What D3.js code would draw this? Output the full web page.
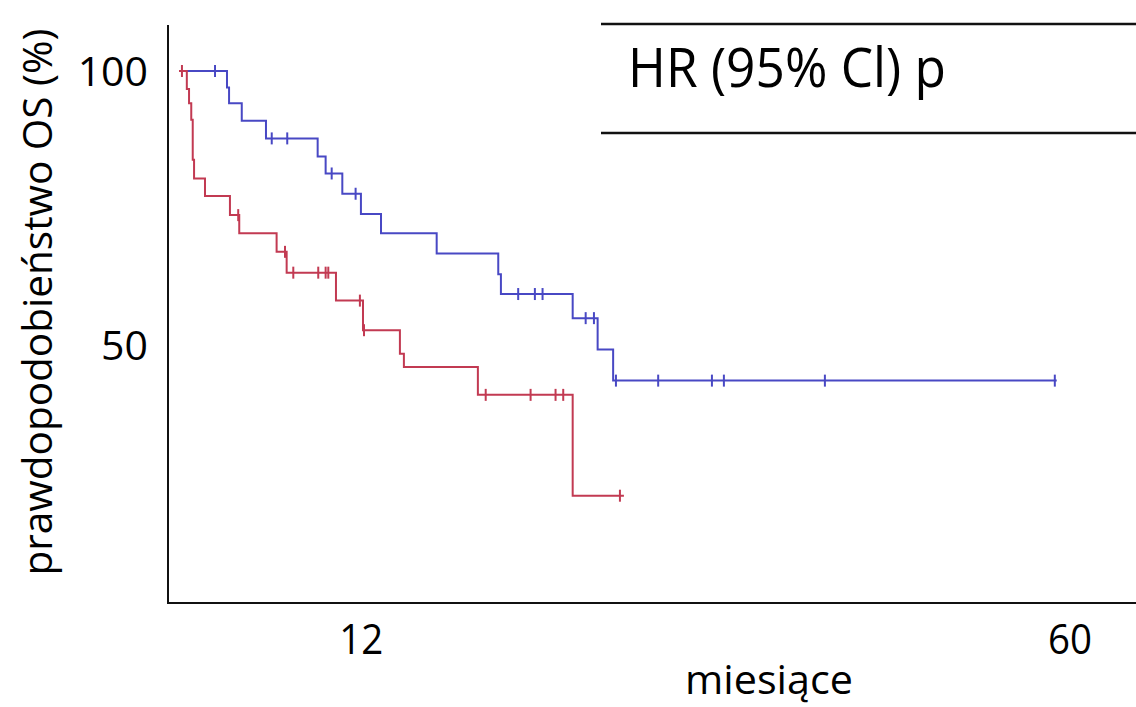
<!DOCTYPE html>
<html>
<head>
<meta charset="utf-8">
<script src="https://cdn.jsdelivr.net/npm/d3@7"></script>
<style>
  html, body { margin: 0; padding: 0; background: #fff; }
  svg { display: block; }
  text { font-family: "Open Sans", "Noto Sans", sans-serif; fill: #000; }
</style>
</head>
<body>
<svg id="chart" width="1136" height="707"></svg>
<script>
// ---- data (months, survival %) ----
const blueEventTimes = [0, 3.25, 3.39, 4.25, 5.89, 9.39, 9.93, 11.06, 12.32, 13.68, 17.45, 21.62, 21.80, 26.66, 28.35, 29.40];
const blueSurvival   = [100, 97.0, 94.1, 90.9, 87.7, 84.4, 81.3, 77.6, 73.9, 70.4, 66.7, 62.9, 59.3, 54.9, 49.2, 43.5];
const blueCensored   = [2.44, 6.28, 7.33, 10.34, 11.96, 22.97, 24.10, 24.62, 27.54, 28.10, 29.59, 32.45, 36.09, 36.90, 43.74, 59.31];
const blueEnd = 59.44;

const redEventTimes = [0, 0.53, 0.68, 0.83, 0.93, 1.02, 1.76, 3.45, 4.08, 6.61, 7.29, 10.63, 12.46, 14.96, 15.23, 20.24, 26.66];
const redSurvival   = [100, 96.7, 94.1, 91.1, 83.8, 80.4, 77.2, 73.7, 70.4, 67.0, 63.2, 58.1, 52.7, 48.4, 46.0, 40.9, 22.5];
const redCensored   = [0.2, 4.01, 7.18, 7.74, 9.43, 9.93, 10.11, 12.25, 12.53, 20.77, 23.81, 25.50, 26.02, 29.86];
const redEnd = 30.13;

const xTicks = [12, 60];
const yTicks = [100, 50];
const xTitle = "miesiące";
const yTitle = "prawdopodobieństwo OS (%)";
const tableHeader = "HR (95% Cl) p";

// ---- layout ----
const svg = d3.select("#chart");
const x = d3.scaleLinear().domain([0, 60]).range([179, 1065]);
const y = d3.scaleLinear().domain([0, 100]).range([619, 71]);

const axisLeftX = 168, axisTopY = 25, axisBottomY = 603, axisRightX = 1136;

// axes frame
svg.append("line").attr("x1", axisLeftX).attr("x2", axisLeftX).attr("y1", axisTopY).attr("y2", axisBottomY + 1)
  .attr("stroke", "#111").attr("stroke-width", 2);
svg.append("line").attr("x1", axisLeftX - 1).attr("x2", axisRightX).attr("y1", axisBottomY).attr("y2", axisBottomY)
  .attr("stroke", "#111").attr("stroke-width", 2);

// y tick labels
svg.selectAll(".ytick").data(yTicks).enter().append("text")
  .attr("class", "ytick")
  .attr("x", 148)
  .attr("y", d => y(d))
  .attr("dy", "0.36em")
  .attr("text-anchor", "end")
  .attr("font-size", 41)
  .text(d => d);

// x tick labels
svg.selectAll(".xtick").data(xTicks).enter().append("text")
  .attr("class", "xtick")
  .attr("x", d => x(d) + 5)
  .attr("y", 654)
  .attr("text-anchor", "middle")
  .attr("font-size", 42)
  .attr("textLength", 44)
  .attr("lengthAdjust", "spacingAndGlyphs")
  .text(d => d);

// axis titles
svg.append("text")
  .attr("x", 769).attr("y", 694)
  .attr("text-anchor", "middle")
  .attr("font-size", 41)
  .attr("textLength", 168)
  .attr("lengthAdjust", "spacingAndGlyphs")
  .text(xTitle);

svg.append("text")
  .attr("transform", "translate(52,302) rotate(-90)")
  .attr("text-anchor", "middle")
  .attr("font-size", 41)
  .attr("textLength", 547)
  .attr("lengthAdjust", "spacingAndGlyphs")
  .text(yTitle);

// table header
svg.append("line").attr("x1", 601).attr("x2", 1136).attr("y1", 24).attr("y2", 24).attr("stroke", "#111").attr("stroke-width", 2.5);
svg.append("line").attr("x1", 601).attr("x2", 1136).attr("y1", 133).attr("y2", 133).attr("stroke", "#111").attr("stroke-width", 2.5);
svg.append("text")
  .attr("x", 628).attr("y", 87)
  .attr("font-size", 54)
  .attr("textLength", 318)
  .attr("lengthAdjust", "spacingAndGlyphs")
  .text(tableHeader);

// ---- survival curves ----
function survAt(times, surv, t) {
  let s = surv[0];
  for (let i = 0; i < times.length; i++) { if (times[i] <= t) s = surv[i]; }
  return s;
}

function drawCurve(times, surv, censored, end, color) {
  const pts = times.map((t, i) => [t, surv[i]]);
  pts.push([end, surv[surv.length - 1]]);
  const line = d3.line().x(d => x(d[0])).y(d => y(d[1])).curve(d3.curveStepAfter);
  svg.append("path").datum(pts)
    .attr("d", line)
    .attr("fill", "none")
    .attr("stroke", color)
    .attr("stroke-width", 2);
  svg.selectAll(null).data(censored).enter().append("line")
    .attr("x1", d => x(d)).attr("x2", d => x(d))
    .attr("y1", d => y(survAt(times, surv, d)) - 6)
    .attr("y2", d => y(survAt(times, surv, d)) + 6)
    .attr("stroke", color)
    .attr("stroke-width", 2);
}

drawCurve(blueEventTimes, blueSurvival, blueCensored, blueEnd, "#4848c4");
drawCurve(redEventTimes, redSurvival, redCensored, redEnd, "#c23a52");
</script>
</body>
</html>
